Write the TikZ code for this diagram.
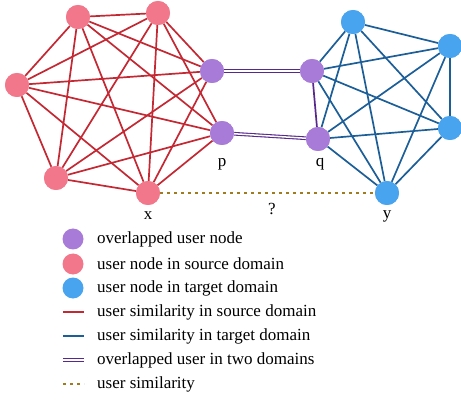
\documentclass[tikz,border=0pt]{standalone}
\usepackage{fontspec}
\setmainfont{Liberation Serif}
\definecolor{srcnode}{HTML}{F3778B}
\definecolor{srcedge}{HTML}{C42833}
\definecolor{tgtnode}{HTML}{48A4EE}
\definecolor{tgtedge}{HTML}{1C5E98}
\definecolor{ovnode}{HTML}{A87BD9}
\definecolor{ovedge}{HTML}{58298C}
\definecolor{simedge}{HTML}{A07C1E}
\tikzset{
  user/.style={circle, inner sep=0pt, minimum size=24pt},
  srcuser/.style={user, fill=srcnode},
  tgtuser/.style={user, fill=tgtnode},
  ovuser/.style={user, fill=ovnode},
  srclink/.style={draw=srcedge, line width=1.7pt},
  tgtlink/.style={draw=tgtedge, line width=1.7pt},
  ovlink/.style={draw=ovedge, line width=1.1pt, double=white, double distance=1.5pt},
  ovsingle/.style={draw=ovedge, line width=1.7pt},
  simlink/.style={draw=simedge, line width=1.6pt, dash pattern=on 3pt off 4pt},
  lbl/.style={font=\fontsize{17}{20}\selectfont, inner sep=0pt},
  legtext/.style={font=\fontsize{17}{20}\selectfont, anchor=west, inner sep=0pt},
}
\begin{document}
\begin{tikzpicture}[x=1pt, y=-1pt]
\useasboundingbox (0,0) rectangle (461,401);

% users in the source domain
\node[srcuser] (s1) at (78,17) {};
\node[srcuser] (s2) at (158,13) {};
\node[srcuser] (s3) at (17,85) {};
\node[srcuser] (s4) at (56,178) {};
\node[srcuser] (x) at (148,193) {};
% overlapped users
\node[ovuser] (p1) at (212,71) {};
\node[ovuser] (p) at (222,133) {};
\node[ovuser] (q1) at (312,71) {};
\node[ovuser] (q) at (318,139) {};
% users in the target domain
\node[tgtuser] (t1) at (353,22) {};
\node[tgtuser] (t2) at (450,46) {};
\node[tgtuser] (t3) at (450,128) {};
\node[tgtuser] (y) at (387,193) {};

% source-domain similarities
\foreach \a/\b in {s1/s2,s1/s3,s1/s4,s1/x,s1/p1,s1/p,
                   s2/s3,s2/s4,s2/x,s2/p1,s2/p,
                   s3/s4,s3/x,s3/p1,s3/p,
                   s4/x,s4/p1,s4/p,
                   x/p1,x/p}
  \draw[srclink] (\a) -- (\b);
% target-domain similarities
\foreach \a/\b in {q1/t1,q1/t2,q1/t3,q1/y,
                   q/t1,q/t2,q/t3,q/y,
                   t1/t2,t1/t3,t1/y,
                   t2/t3,t2/y,t3/y}
  \draw[tgtlink] (\a) -- (\b);
% overlapped users across domains
\draw[ovlink] (p1) -- (q1);
\draw[ovlink] (p) -- (q);
\draw[ovsingle] (q1) -- (q);
% unknown similarity
\draw[simlink] (x) -- (y);

% redraw the users above their links
\foreach \n in {s1,s2,s3,s4,x} \node[srcuser] at (\n) {};
\foreach \n in {p1,p,q1,q} \node[ovuser] at (\n) {};
\foreach \n in {t1,t2,t3,y} \node[tgtuser] at (\n) {};

% labels
\node[lbl] (lp) at (222,164) {p};
\node[lbl] (lq) at (320,164) {q};
\node[lbl] (lx) at (148,216) {x};
\node[lbl] (ly) at (387,216) {y};
\node[lbl] (lquery) at (272,209) {?};

% legend
\node[ovuser, minimum size=21pt] (k1) at (73,239) {};
\node[srcuser, minimum size=21pt] (k2) at (73,264) {};
\node[tgtuser, minimum size=21pt] (k3) at (73,288) {};
\coordinate (k4a) at (63,312); \coordinate (k4b) at (84,312);
\coordinate (k5a) at (63,336); \coordinate (k5b) at (84,336);
\coordinate (k6a) at (63,360); \coordinate (k6b) at (84,360);
\coordinate (k7a) at (63,384); \coordinate (k7b) at (84,384);
\draw[srclink] (k4a) -- (k4b);
\draw[tgtlink] (k5a) -- (k5b);
\draw[ovlink] (k6a) -- (k6b);
\draw[simlink] (k7a) -- (k7b);
\node[legtext] (t1t) at (97,239) {overlapped user node};
\node[legtext] (t2t) at (97,264) {user node in source domain};
\node[legtext] (t3t) at (97,288) {user node in target domain};
\node[legtext] (t4t) at (97,312) {user similarity in source domain};
\node[legtext] (t5t) at (97,336) {user similarity in target domain};
\node[legtext] (t6t) at (97,360) {overlapped user in two domains};
\node[legtext] (t7t) at (97,384) {user similarity};
\end{tikzpicture}
\end{document}
